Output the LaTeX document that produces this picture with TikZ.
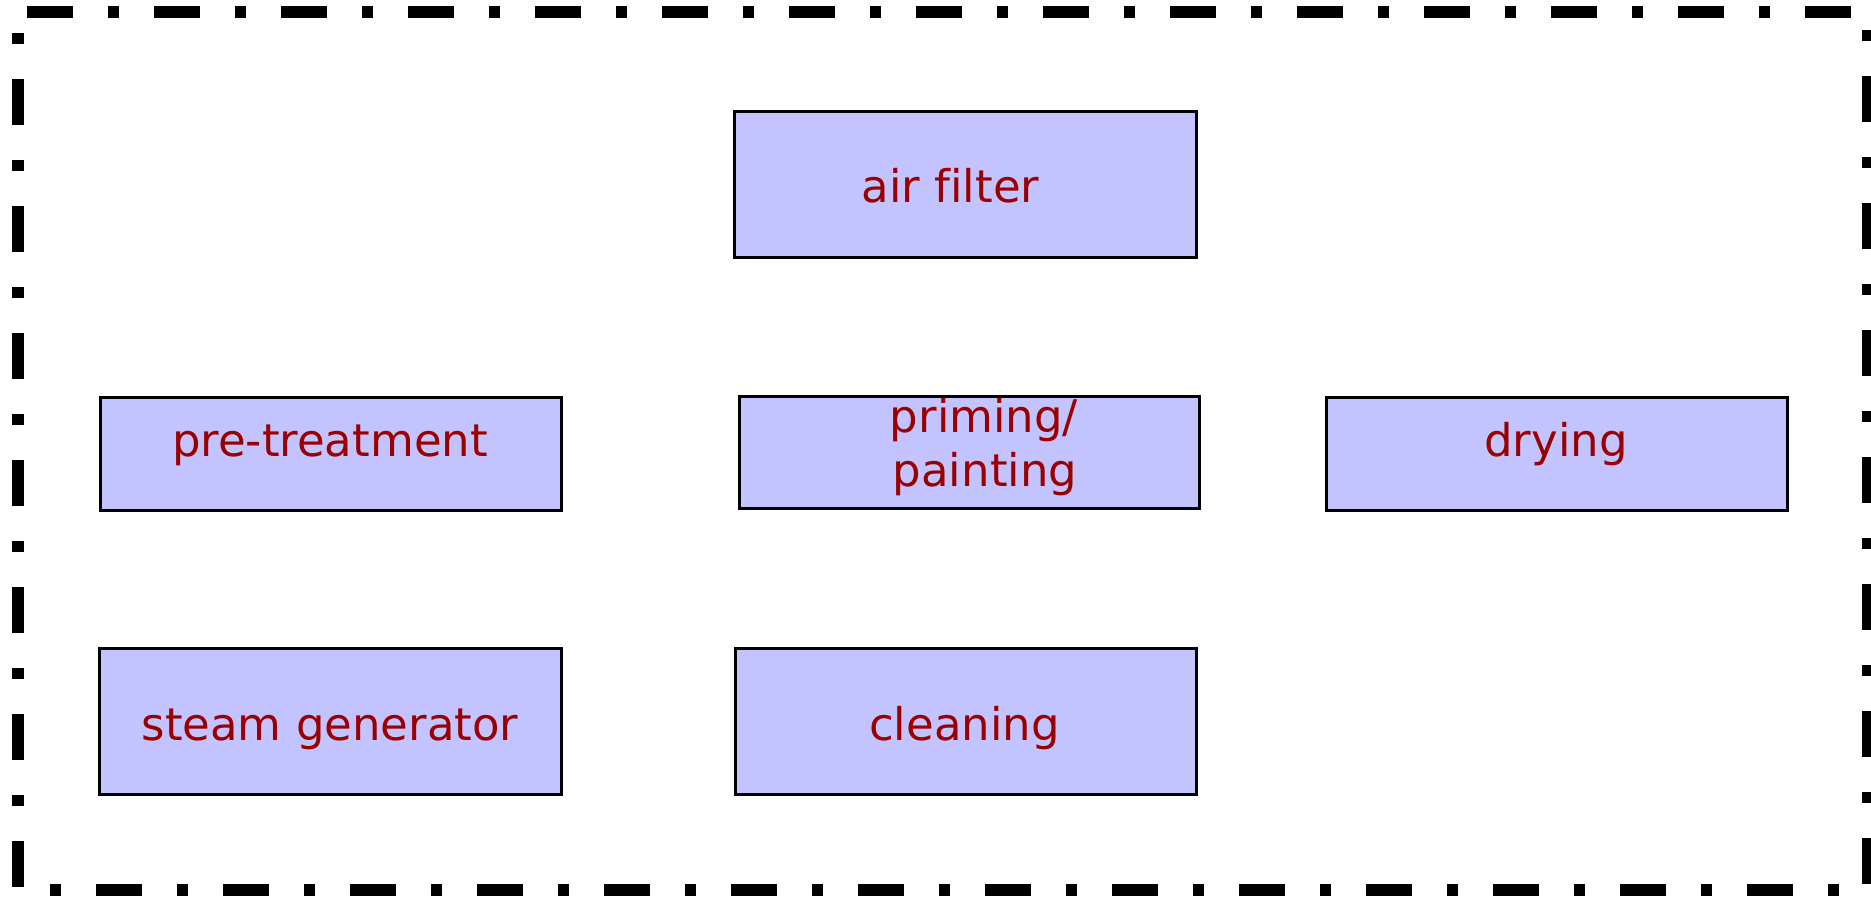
\documentclass[tikz,border=0pt]{standalone}
\usepackage{fontspec}
\setmainfont{DejaVu Sans}[Ligatures=NoCommon]
\definecolor{boxfill}{RGB}{195,195,255}
\definecolor{labelred}{RGB}{155,0,0}
\begin{document}
\begin{tikzpicture}[x=0.5pt,y=-0.5pt,
  stagebox/.style={draw=black, fill=boxfill, line width=1.4pt, rectangle, inner sep=0pt},
  stagetext/.style={anchor=base, inner sep=0pt, text=labelred,
    font=\fontsize{22.5pt}{27pt}\selectfont},
  frame/.style={line width=6pt, line cap=butt,
    dash pattern=on 23pt off 17.5pt on 5.5pt off 17.5pt, dash phase=59pt}]
\useasboundingbox (0,0) rectangle (1871,896);

% dash-dot frame round the plant
\draw[frame] (18,12) -- (1868,12) -- (1868,890) -- (18,890) -- cycle;

% process stages
\node[stagebox, minimum width=231pt, minimum height=73pt]   (airfilter) at (965.5,184.5) {};
\node[stagebox, minimum width=230.5pt, minimum height=56.5pt] (pretreat) at (331,454) {};
\node[stagebox, minimum width=230pt, minimum height=56pt]   (priming) at (969.5,452.5) {};
\node[stagebox, minimum width=230.5pt, minimum height=56.5pt] (drying) at (1557,454) {};
\node[stagebox, minimum width=231pt, minimum height=73pt]   (steam) at (330.5,721.5) {};
\node[stagebox, minimum width=230.5pt, minimum height=73pt] (cleaning) at (966,721.5) {};

% stage labels
\node[stagetext] (airfilterlbl) at (950.5,202) {air filter};
\node[stagetext] (pretreatlbl) at (330,456) {pre-treatment};
\node[stagetext] (priminglbl) at (984,432) {priming/};
\node[stagetext] (paintinglbl) at (985,486) {painting};
\node[stagetext] (dryinglbl) at (1556,456) {drying};
\node[stagetext] (steamlbl) at (330,740) {steam generator};
\node[stagetext] (cleaninglbl) at (964.5,740) {cleaning};
\end{tikzpicture}
\end{document}
